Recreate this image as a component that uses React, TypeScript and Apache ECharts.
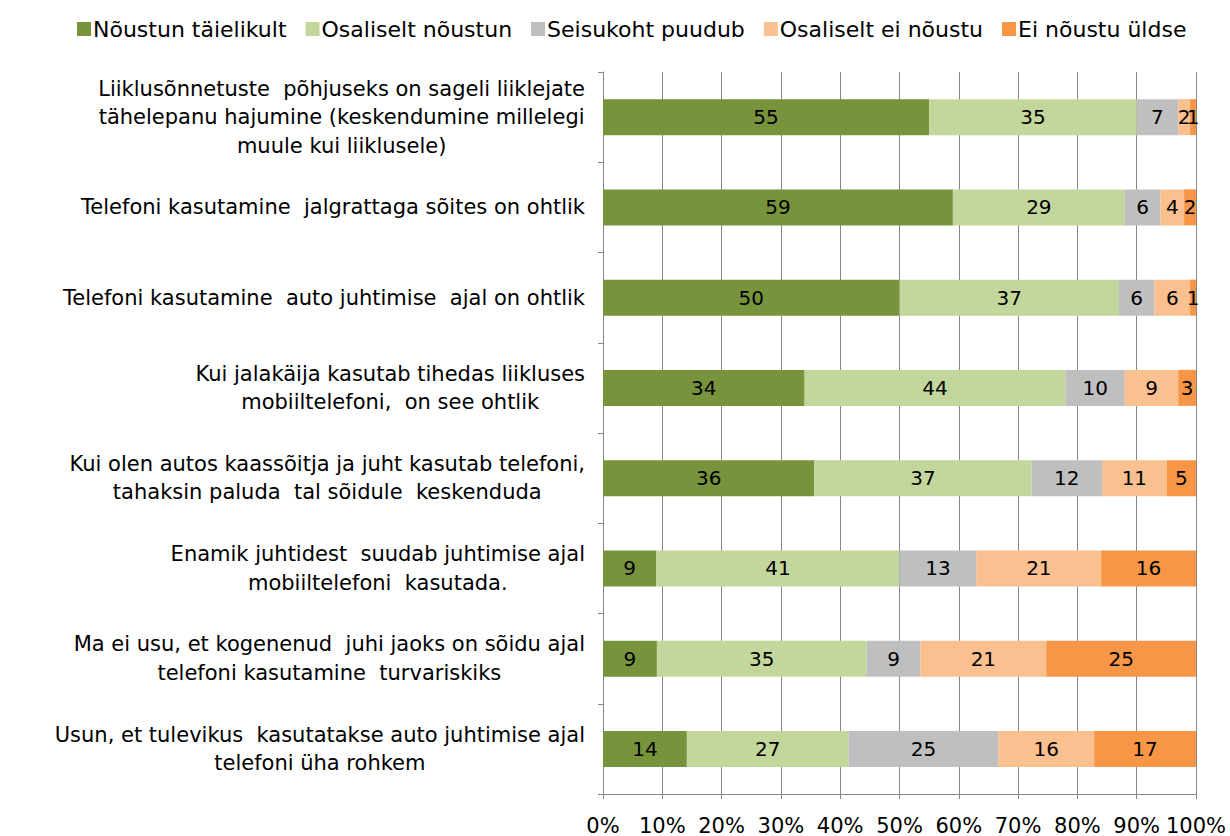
import React, { useEffect, useRef } from "react";
import * as echarts from "echarts";

const categories = [
  "Liiklusõnnetuste  põhjuseks on sageli liiklejate\ntähelepanu hajumine (keskendumine millelegi\nmuule kui liiklusele)",
  "Telefoni kasutamine  jalgrattaga sõites on ohtlik",
  "Telefoni kasutamine  auto juhtimise  ajal on ohtlik",
  "Kui jalakäija kasutab tihedas liikluses\nmobiiltelefoni,  on see ohtlik",
  "Kui olen autos kaassõitja ja juht kasutab telefoni,\ntahaksin paluda  tal sõidule  keskenduda",
  "Enamik juhtidest  suudab juhtimise ajal\nmobiiltelefoni  kasutada.",
  "Ma ei usu, et kogenenud  juhi jaoks on sõidu ajal\ntelefoni kasutamine  turvariskiks",
  "Usun, et tulevikus  kasutatakse auto juhtimise ajal\ntelefoni üha rohkem",
];

const seriesNames = [
  "Nõustun täielikult",
  "Osaliselt nõustun",
  "Seisukoht puudub",
  "Osaliselt ei nõustu",
  "Ei nõustu üldse",
];

const noustunTaielikult = [55, 59, 50, 34, 36, 9, 9, 14];
const osaliseltNoustun = [35, 29, 37, 44, 37, 41, 35, 27];
const seisukohtPuudub = [7, 6, 6, 10, 12, 13, 9, 25];
const osaliseltEiNoustu = [2, 4, 6, 9, 11, 21, 21, 16];
const eiNoustuUldse = [1, 2, 1, 3, 5, 16, 25, 17];

const xTicks = [0, 10, 20, 30, 40, 50, 60, 70, 80, 90, 100];

const colors = ["#77933C", "#C3D69B", "#BFBFBF", "#FAC090", "#F79646"];

const FONT = "DejaVu Sans";

export default function App() {
  const ref = useRef<HTMLDivElement>(null);

  useEffect(() => {
    if (!ref.current) return;
    const chart = echarts.init(ref.current, null, { renderer: "svg" });
    const all = [
      noustunTaielikult,
      osaliseltNoustun,
      seisukohtPuudub,
      osaliseltEiNoustu,
      eiNoustuUldse,
    ];
    const sums = categories.map((_, i) =>
      all.reduce((s, arr) => s + arr[i], 0)
    );

    const series = all.map((arr, si) => ({
      name: seriesNames[si],
      type: "bar",
      stack: "total",
      barWidth: 36,
      itemStyle: { color: colors[si] },
      label: {
        show: true,
        position: "inside",
        color: "#000",
        fontSize: 20,
        fontFamily: FONT,
        formatter: (p: any) => String(arr[p.dataIndex]),
      },
      data: arr.map((v, i) => (v / sums[i]) * 100),
    }));

    chart.setOption({
      animation: false,
      textStyle: { fontFamily: FONT },
      legend: {
        top: 13,
        left: 72,
        itemWidth: 14,
        itemHeight: 14,
        itemGap: 19,
        icon: "rect",
        textStyle: { fontSize: 22, color: "#000", fontFamily: FONT, padding: [0, 0, 0, -3] },
        data: seriesNames,
      },
      grid: { left: 603, right: 34, top: 72, bottom: 39, containLabel: false },
      xAxis: {
        type: "value",
        min: xTicks[0],
        max: xTicks[xTicks.length - 1],
        interval: 10,
        axisLine: { show: true, lineStyle: { color: "#868686" } },
        axisTick: { show: true, length: 5, lineStyle: { color: "#868686" } },
        splitLine: { show: true, lineStyle: { color: "#868686", width: 1 } },
        axisLabel: {
          formatter: "{value}%",
          fontSize: 21,
          color: "#000",
          fontFamily: FONT,
          margin: 21,
        },
      },
      yAxis: {
        type: "category",
        inverse: true,
        data: categories,
        axisLine: { show: true, lineStyle: { color: "#868686" } },
        axisTick: { show: true, length: 5, lineStyle: { color: "#868686" } },
        axisLabel: {
          margin: 18,
          color: "#000",
          fontSize: 21,
          fontFamily: FONT,
          lineHeight: 28.5,
          formatter: (v: string) =>
            v
              .split("\n")
              .map((l) => `{c|${l}}`)
              .join("\n"),
          rich: {
            c: {
              align: "center",
              fontSize: 21,
              fontFamily: FONT,
              color: "#000",
              lineHeight: 28.5,
            },
          },
        },
      },
      series,
    });
    return () => chart.dispose();
  }, []);

  return (
    <div
      ref={ref}
      style={{ position: "fixed", left: 0, top: 0, width: 1230, height: 836, background: "#fff" }}
    />
  );
}
